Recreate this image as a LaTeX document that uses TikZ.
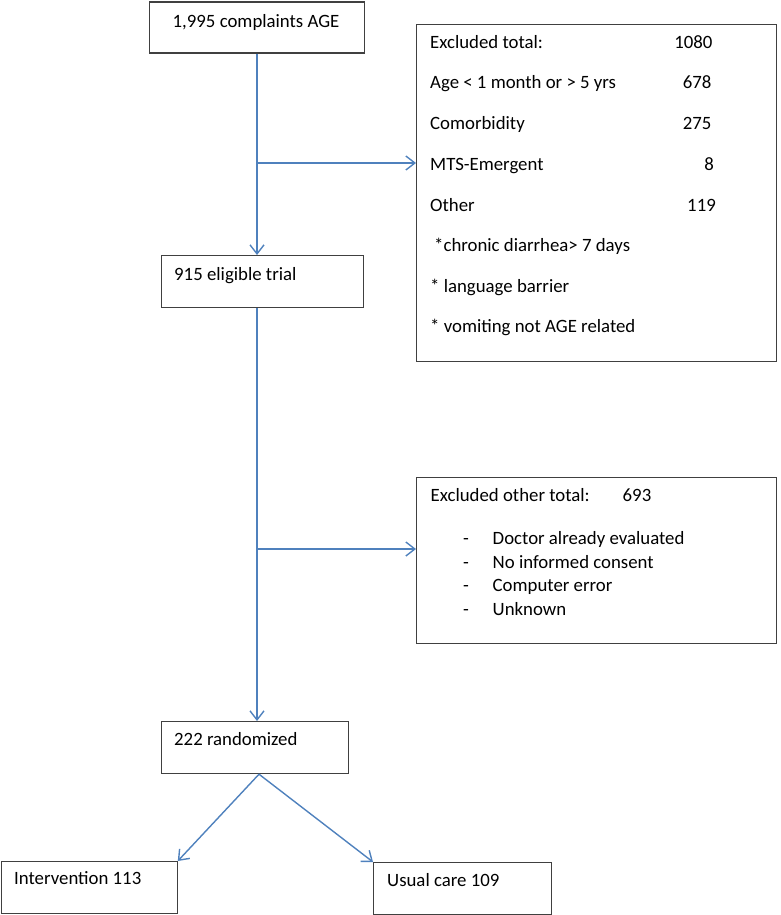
\documentclass[tikz,border=0pt]{standalone}
\usepackage{fontspec}
\setmainfont{Carlito}
\usetikzlibrary{arrows.meta}
\definecolor{flowblue}{RGB}{79,129,189}
\definecolor{boxgray}{RGB}{64,64,64}
\begin{document}
\begin{tikzpicture}[x=1pt,y=1pt]

\tikzset{box/.style = {draw=boxgray, line width=1.2pt, anchor=north west, inner sep=0pt}}
\tikzset{txt/.style = {anchor=base west, inner sep=0pt, font=\fontsize{18.8}{22}\selectfont}}
\tikzset{num/.style = {anchor=base east, inner sep=0pt, font=\fontsize{18.8}{22}\selectfont}}
\tikzset{edge/.style = {draw=flowblue, line width=1.4pt, -{Straight Barb[length=9pt,width=14pt]}}}
\useasboundingbox (0,0) rectangle (780,-915);
% boxes
\node[box, minimum width=215, minimum height=51] (age) at (149,-1.5) {};
\node[box, minimum width=202, minimum height=52] (eligible) at (161,-255) {};
\node[box, minimum width=360, minimum height=337] (excl) at (416,-24) {};
\node[box, minimum width=360, minimum height=166] (other) at (416,-477) {};
\node[box, minimum width=187, minimum height=52] (random) at (161,-721) {};
\node[box, minimum width=176, minimum height=52] (interv) at (0.6,-861) {};
\node[box, minimum width=178, minimum height=52] (usual) at (373,-862) {};
% texts
\node[txt] (agetxt) at (172.5,-27.5) {1,995 complaints AGE};
\node[txt] (eligtxt) at (174,-280) {915 eligible trial};
\node[txt] (randtxt) at (174,-745.5) {222 randomized};
\node[txt] (intvtxt) at (14,-884) {Intervention 113};
\node[txt] (usualtxt) at (387,-886.5) {Usual care 109};
% excluded
\node[txt] (ex1) at (430,-48.3) {Excluded total:};
\node[txt] (ex2) at (430,-89) {Age < 1 month or > 5 yrs};
\node[txt] (ex3) at (430,-130) {Comorbidity};
\node[txt] (ex4) at (430,-170.5) {MTS-Emergent};
\node[txt] (ex5) at (430,-211) {Other};
\node[txt] (ex6) at (434,-251.5) {*chronic diarrhea> 7 days};
\node[txt] (ex7) at (430,-292) {* language barrier};
\node[txt] (ex8) at (430,-332.5) {* vomiting not AGE related};
\node[num] (nr1) at (712.7,-48.3) {1080};
\node[num] (nr2) at (711.7,-89) {678};
\node[num] (nr3) at (711.7,-130) {275};
\node[num] (nr4) at (714,-170.5) {8};
\node[num] (nr5) at (716,-211) {119};
% excluded other
\node[txt] (ot0) at (430.5,-501) {Excluded other total:};
\node[txt] (otnr) at (622.5,-501) {693};
\node[txt] (dash1) at (463,-544) {-};
\node[txt] (dash2) at (463,-568) {-};
\node[txt] (dash3) at (463,-591.5) {-};
\node[txt] (dash4) at (463,-615) {-};
\node[txt] (ot1) at (492.5,-544) {Doctor already evaluated};
\node[txt] (ot2) at (492.5,-568) {No informed consent};
\node[txt] (ot3) at (492.5,-591.5) {Computer error};
\node[txt] (ot4) at (492.5,-615) {Unknown};
%edges
\coordinate (trunk) at (257,0);
\coordinate (split1) at (257,-163);
\coordinate (split2) at (257,-549);
\draw[edge] (trunk |- age.south) -- (trunk |- eligible.north);
\draw[edge] (split1) -- (split1 -| excl.west);
\draw[edge] (trunk |- eligible.south) -- (trunk |- random.north);
\draw[edge] (split2) -- (split2 -| other.west);
\draw[edge] ([xshift=2pt]trunk |- random.south) -- (interv.north east);
\draw[edge] ([xshift=2pt]trunk |- random.south) -- (usual.north west);
\end{tikzpicture}
\end{document}
